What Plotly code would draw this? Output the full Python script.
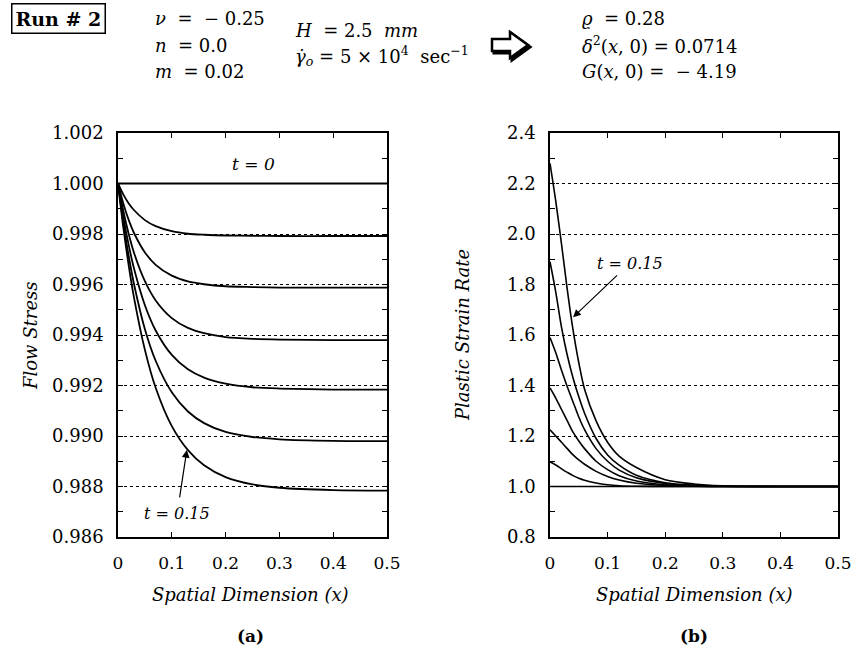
import plotly.graph_objects as go

W, H = 858, 656

# ---------------- data ----------------
x_a = [0, 0.01, 0.02, 0.03, 0.05, 0.07, 0.10, 0.13, 0.16, 0.20, 0.25, 0.30, 0.40, 0.50]
stress_t0 = [1.0, 1.0, 1.0, 1.0, 1.0, 1.0, 1.0, 1.0, 1.0, 1.0, 1.0, 1.0, 1.0, 1.0]
stress_1 = [1.0, 0.99956, 0.99921, 0.99894, 0.99855, 0.99831, 0.99811, 0.99801, 0.99797, 0.99794, 0.99793, 0.99792, 0.99792, 0.99792]
stress_2 = [1.0, 0.99920, 0.99855, 0.99803, 0.99727, 0.99678, 0.99635, 0.99612, 0.99601, 0.99593, 0.99590, 0.99588, 0.99588, 0.99588]
stress_3 = [1.0, 0.99890, 0.99799, 0.99724, 0.99613, 0.99537, 0.99467, 0.99428, 0.99407, 0.99392, 0.99385, 0.99382, 0.99380, 0.99380]
stress_4 = [1.0, 0.99866, 0.99755, 0.99661, 0.99518, 0.99418, 0.99321, 0.99264, 0.99231, 0.99207, 0.99193, 0.99188, 0.99184, 0.99184]
stress_5 = [1.0, 0.99843, 0.99711, 0.99599, 0.99423, 0.99298, 0.99173, 0.99097, 0.99051, 0.99016, 0.98996, 0.98987, 0.98981, 0.98980]
stress_6 = [1.0, 0.99824, 0.99674, 0.99545, 0.99341, 0.99191, 0.99039, 0.98944, 0.98884, 0.98837, 0.98808, 0.98795, 0.98786, 0.98784]
stress_curves = [stress_t0, stress_1, stress_2, stress_3, stress_4, stress_5, stress_6]

x_b = [0, 0.01, 0.02, 0.03, 0.04, 0.05, 0.06, 0.08, 0.10, 0.12, 0.15, 0.20, 0.25, 0.30, 0.40, 0.50]
rate_t0 = [1.0, 1.0, 1.0, 1.0, 1.0, 1.0, 1.0, 1.0, 1.0, 1.0, 1.0, 1.0, 1.0, 1.0, 1.0, 1.0]
rate_1 = [1.098, 1.085, 1.070, 1.056, 1.043, 1.033, 1.025, 1.014, 1.007, 1.003, 1.001, 1.0, 1.0, 1.0, 1.0, 1.0]
rate_2 = [1.225, 1.200, 1.175, 1.150, 1.125, 1.105, 1.088, 1.060, 1.040, 1.026, 1.013, 1.004, 1.001, 1.0, 1.0, 1.0]
rate_3 = [1.390, 1.350, 1.305, 1.260, 1.215, 1.180, 1.150, 1.100, 1.067, 1.043, 1.022, 1.007, 1.002, 1.0, 1.0, 1.0]
rate_4 = [1.590, 1.530, 1.460, 1.395, 1.335, 1.275, 1.225, 1.150, 1.100, 1.065, 1.035, 1.012, 1.004, 1.001, 1.0, 1.0]
rate_5 = [1.890, 1.770, 1.630, 1.520, 1.430, 1.355, 1.290, 1.190, 1.125, 1.085, 1.045, 1.015, 1.005, 1.001, 1.0, 1.0]
rate_6 = [2.280, 2.130, 1.960, 1.780, 1.620, 1.490, 1.385, 1.260, 1.175, 1.120, 1.075, 1.027, 1.010, 1.003, 1.0, 1.0]
rate_curves = [rate_t0, rate_1, rate_2, rate_3, rate_4, rate_5, rate_6]

x_ticks = [0, 0.1, 0.2, 0.3, 0.4, 0.5]
x_tick_text = ["0", "0.1", "0.2", "0.3", "0.4", "0.5"]
stress_ticks = [0.986, 0.988, 0.990, 0.992, 0.994, 0.996, 0.998, 1.000, 1.002]
rate_ticks = [0.8, 1.0, 1.2, 1.4, 1.6, 1.8, 2.0, 2.2, 2.4]

# ---------------- figure ----------------
SERIF = "DejaVu Serif"
NB = "\u00a0"


def px(x):
    return x / W


def py(y):
    return 1 - y / H


fig = go.Figure()
for ys in stress_curves:
    fig.add_trace(go.Scatter(x=x_a, y=ys, mode="lines", xaxis="x", yaxis="y",
                             line=dict(color="black", width=1.8, shape="spline", smoothing=0.8),
                             hoverinfo="skip", showlegend=False))
for ys in rate_curves:
    fig.add_trace(go.Scatter(x=x_b, y=ys, mode="lines", xaxis="x2", yaxis="y2",
                             line=dict(color="black", width=1.6, shape="spline", smoothing=0.8),
                             hoverinfo="skip", showlegend=False))

ydom = [py(537), py(133)]
common_x = dict(range=[0, 0.5], tickvals=x_ticks, ticktext=x_tick_text, automargin=False,
                showline=True, linecolor="black", linewidth=1.5, mirror="ticks",
                ticks="inside", ticklen=5, tickcolor="black", showgrid=False, zeroline=False,
                tickfont=dict(family=SERIF, size=17, color="black"), ticklabelstandoff=10)
common_y = dict(showline=True, linecolor="black", linewidth=1.5, mirror="ticks", automargin=False,
                ticks="inside", ticklen=5, tickcolor="black", zeroline=False,
                showgrid=True, gridcolor="black", griddash="dot", gridwidth=1,
                tickfont=dict(family=SERIF, size=18, color="black"), ticklabelstandoff=9)

fig.update_layout(
    template="none",
    width=W, height=H, margin=dict(l=0, r=0, t=0, b=0, pad=0),
    paper_bgcolor="white", plot_bgcolor="white",
    xaxis=dict(domain=[px(118), px(387)], anchor="y", **common_x),
    yaxis=dict(domain=ydom, anchor="x", range=[0.986, 1.002], tickvals=stress_ticks,
               ticktext=["%.3f" % v for v in stress_ticks],
               minor=dict(dtick=0.001, tick0=0.986, ticks="inside", ticklen=5, tickcolor="black", showgrid=False),
               **common_y),
    xaxis2=dict(domain=[px(550), px(838)], anchor="y2", **common_x),
    yaxis2=dict(domain=ydom, anchor="x2", range=[0.8, 2.4], tickvals=rate_ticks,
                ticktext=["%.1f" % v for v in rate_ticks],
                minor=dict(dtick=0.1, tick0=0.8, ticks="inside", ticklen=5, tickcolor="black", showgrid=False),
                **common_y),
)

ann = []


def paper_text(x, y, text, size, xanchor="center", angle=0, **kw):
    d = dict(x=px(x), y=py(y), xref="paper", yref="paper", text=text, showarrow=False,
             xanchor=xanchor, yanchor="middle", textangle=angle,
             font=dict(family=SERIF, size=size, color="black"))
    d.update(kw)
    ann.append(d)


# axis titles
paper_text(31, 335, "<i>Flow Stress</i>", 18, angle=-90)
paper_text(463, 335, "<i>Plastic Strain Rate</i>", 18, angle=-90)
for cx, lab in [(250, "(a)"), (694, "(b)")]:
    paper_text(cx, 594, "<i>Spatial Dimension (x)</i>", 18)
    paper_text(cx, 636, "<b>%s</b>" % lab, 17)

# curve labels
ann.append(dict(x=0.251, y=1.00076, xref="x", yref="y", text="<i>t = 0</i>", showarrow=False,
                xanchor="center", yanchor="middle", font=dict(family=SERIF, size=17, color="black")))
ann.append(dict(x=0.128, y=0.98945, ax=0.11, ay=0.98694, xref="x", yref="y", axref="x", ayref="y",
                text="<i>t = 0.15</i>", showarrow=True, arrowhead=2, arrowsize=1.3, arrowwidth=1.2,
                arrowcolor="black", startstandoff=5, xanchor="center", yanchor="middle",
                font=dict(family=SERIF, size=16, color="black")))
ann.append(dict(x=0.040, y=1.67, ax=0.139, ay=1.885, xref="x2", yref="y2", axref="x2", ayref="y2",
                text="<i>t = 0.15</i>", showarrow=True, arrowhead=2, arrowsize=1.3, arrowwidth=1.2,
                arrowcolor="black", startstandoff=2, xanchor="center", yanchor="middle",
                font=dict(family=SERIF, size=16, color="black")))

# header
paper_text(58, 19, "<b>Run # 2</b>", 19, bordercolor="black", borderwidth=1.5, borderpad=3)
for yy, t in [(19, "<i>ν</i>" + NB + " = " + NB + "− 0.25"), (45, "<i>n</i>" + NB + " = 0.0"),
              (72, "<i>m</i>" + NB + " = 0.02")]:
    paper_text(153, yy, t, 18, xanchor="left")
for yy, t in [(31, "<i>H</i>" + NB + " = 2.5 " + NB + "<i>mm</i>"),
              (56, "<i>γ̇</i><sub><i>o</i></sub> = 5 × 10<sup>4</sup>" + NB + " sec<sup>−1</sup>")]:
    paper_text(293, yy, t, 18, xanchor="left")
for yy, t in [(19, "<i>ϱ</i>" + NB + " = 0.28"), (45, "<i>δ</i><sup>2</sup>(<i>x</i>, 0) = 0.0714"),
              (72, "<i>G</i>(<i>x</i>, 0) = " + NB + "− 4.19")]:
    paper_text(580, yy, t, 18, xanchor="left")
fig.update_layout(annotations=ann)

# hollow arrow icon in the header (drop shadow + outline)
pts = [(492, 39), (510, 39), (510, 32), (528, 45), (510, 58), (510, 51), (492, 51)]


def arrow_path(dx, dy):
    return "M " + " L ".join("%.5f,%.5f" % (px(a + dx), py(b + dy)) for a, b in pts) + " Z"


fig.add_shape(type="path", path=arrow_path(2, 2), xref="paper", yref="paper",
              line=dict(color="black", width=3), fillcolor="black")
fig.add_shape(type="path", path=arrow_path(0, 0), xref="paper", yref="paper",
              line=dict(color="black", width=2.5), fillcolor="white")

fig.write_html("out.html", config={"displayModeBar": False},
               post_script="document.body.style.margin='0px';")
